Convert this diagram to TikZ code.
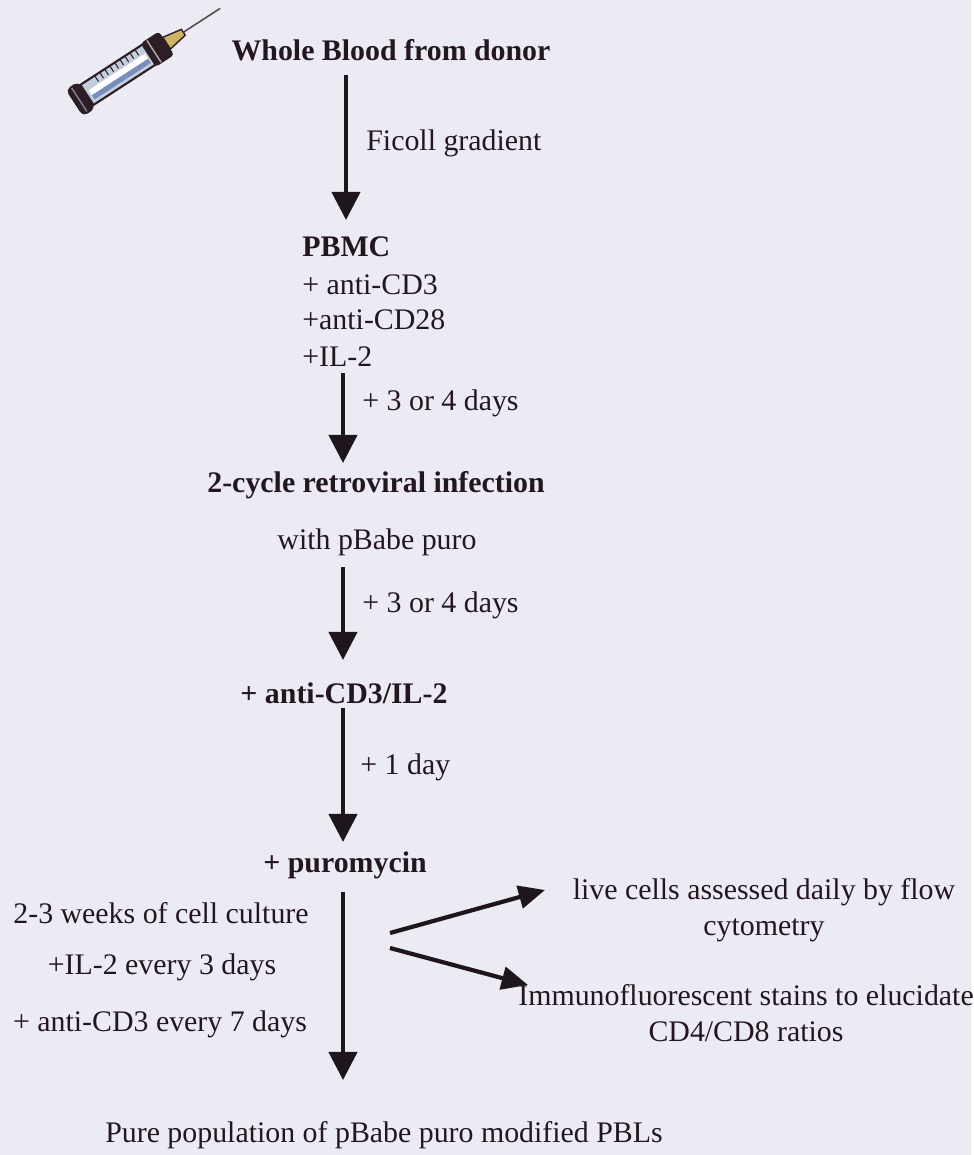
\documentclass[tikz,border=0pt]{standalone}
\usepackage{fontspec}
\setmainfont{Liberation Serif}
\usetikzlibrary{arrows.meta}

\definecolor{paper}{RGB}{236,235,244}
\definecolor{ink}{RGB}{36,22,32}
\definecolor{shaft}{RGB}{30,22,28}
\definecolor{syrdark}{RGB}{45,30,38}
\definecolor{barrel}{RGB}{196,205,220}
\definecolor{barrelblue}{RGB}{120,140,190}
\definecolor{hubtan}{RGB}{205,180,100}

\begin{document}
\begin{tikzpicture}[x=0.02cm, y=-0.02cm,
	every node/.style={inner sep=0pt, text=ink, font=\fontsize{17}{20.4}\selectfont},
	stage/.style={font=\fontsize{17}{20.4}\selectfont\bfseries},
	flow/.style={draw=shaft, line width=2.4pt, -{Triangle[width=16pt,length=16pt]}},
	side/.style={draw=shaft, line width=2.4pt, -{Triangle[width=13pt,length=15pt]}}]
	
	% Background
	\fill[paper] (0,0) rectangle (971,1155);
	
	% Syringe
	\begin{scope}[shift={(76,102)}, rotate=33]
		\fill[syrdark, rounded corners=3pt] (-2,-16) rectangle (13,16);
		\draw[syrdark!55!white, line width=0.8pt] (4,-14) -- (4,14);
		\filldraw[fill=barrel, draw=syrdark, line width=1.2pt] (13,-12) rectangle (88,12);
		\fill[white] (17,-3) rectangle (84,3);
		\fill[barrelblue] (17,3) rectangle (84,8);
		\foreach \t in {30,36,...,78}
			\draw[syrdark, line width=0.6pt] (\t,-11) -- (\t,-5);
		\fill[syrdark, rounded corners=2pt] (86,-14) rectangle (108,14);
		\draw[gray!60, line width=0.8pt] (93,-13) -- (93,13);
		\filldraw[fill=hubtan, draw=syrdark, line width=0.8pt] (108,-7) -- (128,-3.5) -- (128,3.5) -- (108,7) -- cycle;
		\draw[syrdark!80, line width=0.9pt] (128,0) -- (172,0);
	\end{scope}
	
	% Main steps
	\node[stage] (blood) at (391,50) {Whole Blood from donor};
	\node[stage, anchor=west] (pbmc) at (302,247) {PBMC};
	\node[anchor=west] (cd3) at (302,285) {+ anti-CD3};
	\node[anchor=west] (cd28) at (302,320) {+anti-CD28};
	\node[anchor=west] (il2) at (302,357) {+IL-2};
	\node[stage] (infect) at (376,485) {2-cycle retroviral infection};
	\node (pbabe) at (377,542) {with pBabe puro};
	\node[stage] (restim) at (344,693) {+ anti-CD3/IL-2};
	\node[stage] (puro) at (345,865) {+ puromycin};
	\node (pure) at (384,1135) {Pure population of pBabe puro modified PBLs};
	
	% Arrow labels
	\node[anchor=west] (ficoll) at (366,143) {Ficoll gradient};
	\node[anchor=west] (days1) at (362,403) {+ 3 or 4 days};
	\node[anchor=west] (days2) at (362,605) {+ 3 or 4 days};
	\node[anchor=west] (day1) at (360,767) {+ 1 day};
	
	% Culture conditions
	\node (weeks) at (161,913) {2-3 weeks of cell culture};
	\node (il2feed) at (162,967) {+IL-2 every 3 days};
	\node (cd3feed) at (160,1024) {+ anti-CD3 every 7 days};
	
	% Read-outs
	\node[align=center] (flowcyt) at (764,910) {live cells assessed daily by flow\\cytometry};
	\node[align=center] (stains) at (746,1013) {Immunofluorescent stains to elucidate\\CD4/CD8 ratios};
	
	% Arrow ends
	\coordinate (a1) at (346,75);   \coordinate (b1) at (346,220);
	\coordinate (a2) at (343,373);  \coordinate (b2) at (343,463);
	\coordinate (a3) at (343,567);  \coordinate (b3) at (343,660);
	\coordinate (a4) at (343,708);  \coordinate (b4) at (343,842);
	\coordinate (a5) at (343,892);  \coordinate (b5) at (343,1080);
	\coordinate (s1) at (390,933);  \coordinate (t1) at (545,890);
	\coordinate (s2) at (390,948);  \coordinate (t2) at (528,985);
	
	% Arrows
	\draw[flow] (a1) -- (b1);
	\draw[flow] (a2) -- (b2);
	\draw[flow] (a3) -- (b3);
	\draw[flow] (a4) -- (b4);
	\draw[flow] (a5) -- (b5);
	\draw[side] (s1) -- (t1);
	\draw[side] (s2) -- (t2);
\end{tikzpicture}
\end{document}
